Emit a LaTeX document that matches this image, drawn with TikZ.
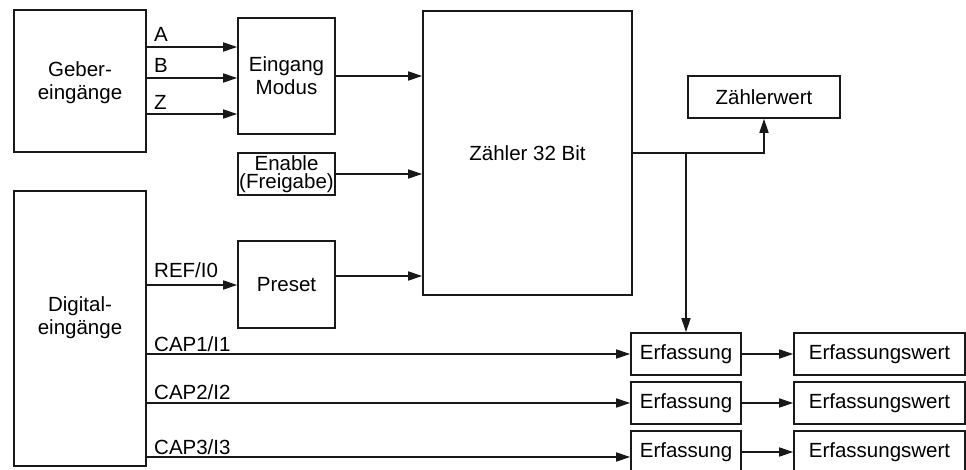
\documentclass[tikz,border=0pt]{standalone}
\usepackage{fontspec}
\setmainfont{Liberation Sans}
\usetikzlibrary{arrows.meta}
\tikzset{
  box/.style={draw=black!90, line width=1.6pt, inner sep=0pt, align=center,
    font=\fontsize{20.5}{23}\selectfont},
  txt/.style={inner sep=0pt, align=center, font=\fontsize{20.5}{23}\selectfont},
  lbl/.style={anchor=base west, inner sep=0pt, font=\fontsize{20.5}{23}\selectfont},
  arr/.style={line width=1.6pt, draw=black!90, -{Triangle[length=14pt,width=9pt]}},
}
\begin{document}
\begin{tikzpicture}[x=1pt,y=-1pt]
\useasboundingbox (0,0) rectangle (966,470);
% boxes
\node[box, minimum width=132pt, minimum height=142pt] (geber) at (80,81) {};
\node[txt] (gebertxt) at (80,83) {Geber-\\eingänge};
\node[box, minimum width=132pt, minimum height=275pt] (digital) at (80,328.5) {};
\node[txt] (digitaltxt) at (80,318) {Digital-\\eingänge};
\node[box, minimum width=97pt, minimum height=116pt] (eingang) at (286.5,76) {Eingang\\Modus};
\node[box, minimum width=97pt, minimum height=42pt, font=\fontsize{20.5}{17.5}\selectfont] (enable) at (286.5,174) {Enable\\(Freigabe)};
\node[box, minimum width=97pt, minimum height=87pt] (preset) at (286.5,284.5) {Preset};
\node[box, minimum width=209pt, minimum height=284pt] (zaehler) at (527.5,153) {Zähler 32 Bit};
\node[box, minimum width=152pt, minimum height=42pt] (zwert) at (764,97) {Zählerwert};
\node[box, minimum width=110pt, minimum height=42pt] (erf1) at (686,354) {Erfassung};
\node[box, minimum width=110pt, minimum height=42pt] (erf2) at (686,403) {Erfassung};
\node[box, minimum width=110pt, minimum height=42pt] (erf3) at (686,452) {Erfassung};
\node[box, minimum width=171pt, minimum height=42pt] (wert1) at (879.5,354) {Erfassungswert};
\node[box, minimum width=171pt, minimum height=42pt] (wert2) at (879.5,403) {Erfassungswert};
\node[box, minimum width=171pt, minimum height=42pt] (wert3) at (879.5,452) {Erfassungswert};
% labels
\node[lbl] (la) at (154,42) {A};
\node[lbl] (lb) at (154,73) {B};
\node[lbl] (lz) at (154,110) {Z};
\node[lbl] (lref) at (154,278) {REF/I0};
\node[lbl] (lc1) at (154,351) {CAP1/I1};
\node[lbl] (lc2) at (154,399) {CAP2/I2};
\node[lbl] (lc3) at (154,454) {CAP3/I3};
% connectors
\draw[arr] (geber.east |- 0,47) -- (eingang.west |- 0,47);
\draw[arr] (geber.east |- 0,78) -- (eingang.west |- 0,78);
\draw[arr] (geber.east |- 0,114) -- (eingang.west |- 0,114);
\draw[arr] (eingang.east) -- (zaehler.west |- eingang.east);
\draw[arr] (enable.east) -- (zaehler.west |- enable.east);
\draw[arr] (preset.east |- 0,276) -- (zaehler.west |- 0,276);
\draw[arr] (digital.east |- 0,285) -- (preset.west |- 0,285);
\draw[arr] (digital.east |- erf1.west) -- (erf1.west);
\draw[arr] (digital.east |- erf2.west) -- (erf2.west);
\draw[arr] (digital.east |- 0,457) -- (erf3.west |- 0,457);
\draw[arr] (erf1.east) -- (wert1.west);
\draw[arr] (erf2.east) -- (wert2.west);
\draw[arr] (erf3.east) -- (wert3.west);
\draw[arr] (zaehler.east) -| (zwert.south);
\coordinate (junc) at (erf1.north |- zaehler.east);
\draw[arr] (junc) -- (erf1.north);
\end{tikzpicture}
\end{document}
